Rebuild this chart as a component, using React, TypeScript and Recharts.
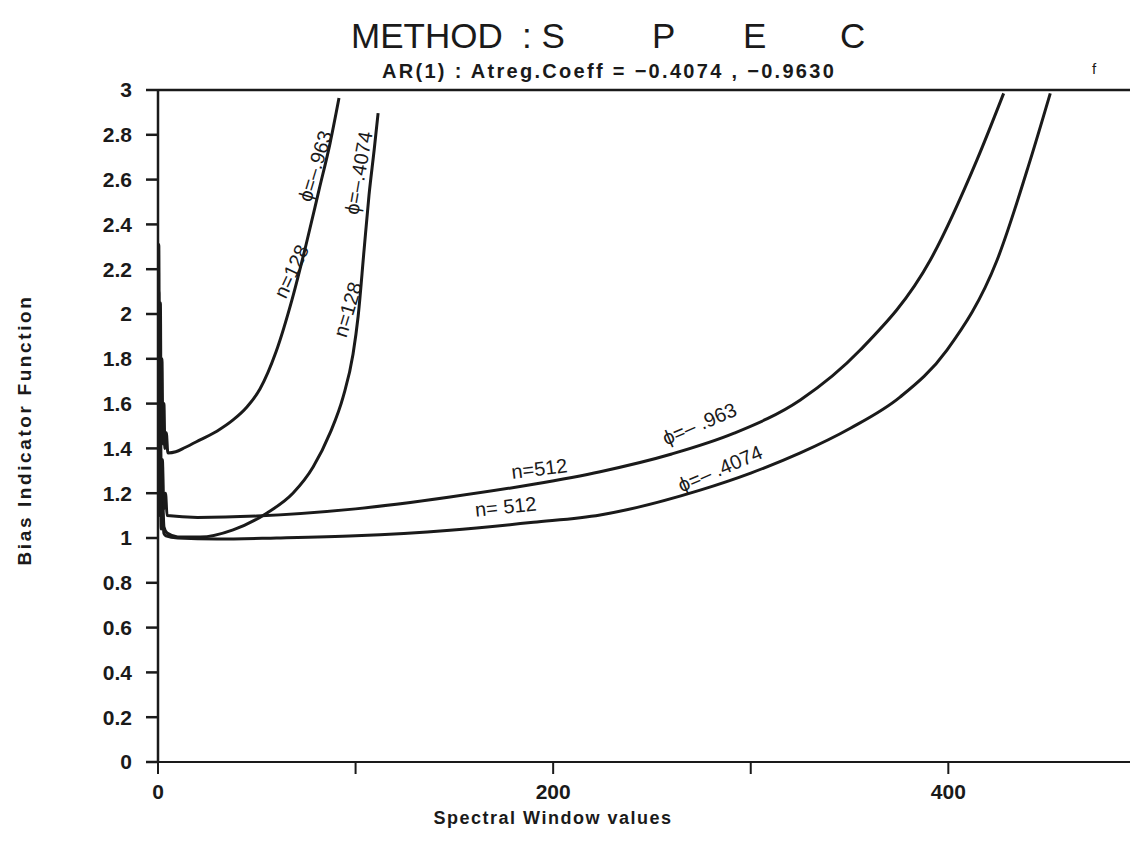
import { LineChart, Line, XAxis, YAxis, ReferenceLine, ReferenceDot } from 'recharts';

// [spectral window value, bias indicator]
const n128Phi963: [number, number][] = [
  [0, 1.3], [0.4, 2.31], [0.8, 1.5], [1.2, 2.05], [1.6, 1.45], [2, 1.8], [2.5, 1.42], [3, 1.6],
  [3.5, 1.4], [4.2, 1.47], [5, 1.38], [9, 1.385], [13.7, 1.404],
  [21.3, 1.438], [30, 1.478], [38, 1.527], [45, 1.585], [51.6, 1.665], [59.7, 1.83], [67.8, 2.063],
  [74.9, 2.308], [81.5, 2.554], [87.1, 2.763], [91.6, 2.964],
];
const n128Phi4074: [number, number][] = [
  [0, 1.2], [0.4, 1.75], [0.8, 1.2], [1.2, 1.45], [1.6, 1.1], [2.2, 1.2], [3, 1.05], [4.6, 1.022],
  [10, 1.005], [21.3, 1.004], [38, 1.036], [55.2, 1.112], [68.4, 1.201], [78.5, 1.317],
  [87.1, 1.469], [93.7, 1.63], [98.7, 1.82], [101.3, 1.99], [104.3, 2.286], [106.8, 2.531],
  [109.4, 2.732], [111.4, 2.897],
];
const n512Phi963: [number, number][] = [
  [0, 1.25], [0.4, 2.1], [0.8, 1.3], [1.2, 1.7], [1.6, 1.2], [2.2, 1.35], [3, 1.13], [3.8, 1.2],
  [4.6, 1.1], [20, 1.092], [50, 1.098], [100, 1.13], [147.8, 1.183], [190, 1.24],
  [223.8, 1.296], [260, 1.375], [291.3, 1.467], [325.1, 1.616], [355.4, 1.839],
  [390.9, 2.241], [414.5, 2.688], [428, 2.985],
];
const n512Phi4074: [number, number][] = [
  [0, 1.15], [0.4, 1.6], [0.8, 1.1], [1.2, 1.3], [1.6, 1.04], [2.2, 1.12], [3, 1.02], [4, 1.01],
  [10, 1.0], [30, 0.995], [60, 1.0], [100, 1.01], [147.8, 1.035], [190, 1.07], [223.8, 1.103],
  [274.4, 1.214], [300, 1.29], [325.1, 1.38], [350.4, 1.49], [375.7, 1.63], [399.3, 1.839],
  [424.7, 2.241], [441.5, 2.688], [451.6, 2.985],
];

const xTicks = [0, 100, 200, 300, 400];
const yTicks = [0, 0.2, 0.4, 0.6, 0.8, 1, 1.2, 1.4, 1.6, 1.8, 2, 2.2, 2.4, 2.6, 2.8, 3];

// curve annotations: text, anchor in data units, rotation
const curveLabels = [
  { text: 'n=128', x: 67.5, y: 2.19, angle: -65 },
  { text: 'ϕ=–.963', x: 79.5, y: 2.66, angle: -73 },
  { text: 'n=128', x: 96, y: 2.02, angle: -73 },
  { text: 'ϕ=–.4074', x: 101.5, y: 2.63, angle: -80 },
  { text: 'n=512', x: 193, y: 1.31, angle: -7 },
  { text: 'ϕ=– .963', x: 274, y: 1.51, angle: -23 },
  { text: 'n= 512', x: 176, y: 1.14, angle: -6 },
  { text: 'ϕ=– .4074', x: 284.5, y: 1.31, angle: -23 },
];

const series = [n128Phi963, n128Phi4074, n512Phi963, n512Phi4074];

const FONT = '"Liberation Sans", Arial, sans-serif';
const INK = '#1a1a1a';

export default function App() {
  return (
    <div style={{ position: 'relative', width: 1130, height: 840, fontFamily: FONT, color: INK }}>
      <div style={{ position: 'absolute', left: 0, top: 8, width: 1130, height: 40, fontSize: 35, whiteSpace: 'pre' }}>
        <span style={{ position: 'absolute', left: 343 }}>{'METHOD  : S'}</span>
        <span style={{ position: 'absolute', left: 644 }}>P</span>
        <span style={{ position: 'absolute', left: 735 }}>E</span>
        <span style={{ position: 'absolute', left: 832 }}>C</span>
      </div>
      <div style={{ position: 'absolute', left: 374, top: 52, fontSize: 20, fontWeight: 700, letterSpacing: 2.3, whiteSpace: 'pre' }}>
        AR(1) : Atreg.Coeff = −0.4074 , −0.9630
      </div>
      <div style={{ position: 'absolute', left: 1084, top: 52, fontSize: 15 }}>f</div>
      <div style={{ position: 'absolute', left: 17, top: 422, width: 0, height: 0 }}>
        <div style={{ position: 'absolute', transform: 'translate(-50%, -50%) rotate(-90deg)', whiteSpace: 'nowrap', fontSize: 19, fontWeight: 700, letterSpacing: 2.6 }}>
          Bias Indicator Function
        </div>
      </div>
      <div style={{ position: 'absolute', left: 545, top: 810, transform: 'translate(-50%, -50%)', whiteSpace: 'nowrap', fontSize: 18, fontWeight: 700, letterSpacing: 1.5 }}>
        Spectral Window values
      </div>

      <LineChart width={1130} height={840} margin={{ top: 82, right: 0, bottom: 46, left: 0 }} style={{ position: 'absolute', left: 0, top: 0 }}>
        <XAxis
          dataKey="x"
          type="number"
          domain={[0, 496]}
          ticks={xTicks}
          allowDataOverflow
          height={40}
          tickFormatter={(v: number) => (v % 200 === 0 ? String(v) : '')}
          tick={{ fill: INK, fontSize: 21, fontWeight: 700, fontFamily: FONT }}
          tickSize={12}
          tickMargin={10}
          tickLine={{ stroke: INK, strokeWidth: 2 }}
          axisLine={{ stroke: INK, strokeWidth: 2 }}
        />
        <YAxis
          type="number"
          domain={[0, 3]}
          ticks={yTicks}
          allowDataOverflow
          width={150}
          tick={{ fill: INK, fontSize: 21, fontWeight: 700, fontFamily: FONT }}
          tickSize={12}
          tickMargin={14}
          tickLine={{ stroke: INK, strokeWidth: 2.5 }}
          axisLine={{ stroke: INK, strokeWidth: 2.5 }}
        />
        <ReferenceLine y={3} stroke={INK} strokeWidth={2.5} />
        {series.map((s, i) => (
          <Line
            key={i}
            data={s.map(([x, y]) => ({ x, y }))}
            dataKey="y"
            type="monotone"
            stroke={INK}
            strokeWidth={3}
            dot={false}
            activeDot={false}
            isAnimationActive={false}
          />
        ))}
        {curveLabels.map((l, i) => (
          <ReferenceDot
            key={'lbl' + i}
            x={l.x}
            y={l.y}
            r={0}
            ifOverflow="visible"
            shape={(p: any) => (
              <text
                x={p.cx}
                y={p.cy}
                transform={`rotate(${l.angle} ${p.cx} ${p.cy})`}
                textAnchor="middle"
                dominantBaseline="central"
                fontSize={20}
                fontFamily={FONT}
                fill={INK}
              >
                {l.text}
              </text>
            )}
          />
        ))}
      </LineChart>
    </div>
  );
}
